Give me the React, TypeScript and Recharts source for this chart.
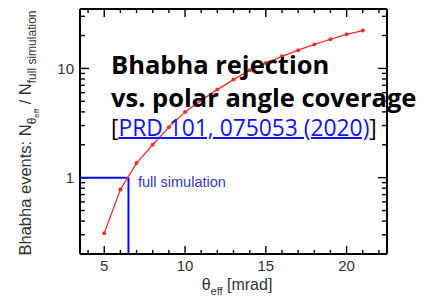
import { ComposedChart, Line, XAxis, YAxis, ReferenceLine } from "recharts";

// theta_eff [mrad] and N(theta_eff) / N(full simulation)
const angles = [5, 6, 7, 8, 9, 10, 11, 12, 13, 14, 15, 16, 17, 18, 19, 20, 21];
const ratios = [0.31, 0.78, 1.36, 2.0, 2.9, 4.0, 5.1, 6.4, 7.9, 9.6, 11.2, 12.9, 14.7, 16.6, 18.5, 20.5, 22.2];

const xMajor = [5, 10, 15, 20];
const xTicks = [4, 5, 6, 7, 8, 9, 10, 11, 12, 13, 14, 15, 16, 17, 18, 19, 20, 21, 22];
const yMajor = [1, 10];
const yTicks = [0.2, 0.3, 0.4, 0.5, 0.6, 0.7, 0.8, 0.9, 1, 2, 3, 4, 5, 6, 7, 8, 9, 10, 20, 30];

const fullSimAngle = 6.5;
const fullSimRatio = 1;

const xDomain = [3.5, 22.5];
const yDomain = [0.2, 35];

const data = angles.map((a, i) => ({ angle: a, ratio: ratios[i] }));

const W = 431;
const H = 298;
const axisFont = "'Liberation Sans', Arial, sans-serif";
const titleFont = "'Open Sans', 'Noto Sans', sans-serif";
const labelGray = "#333";
const simBlue = "#0b0bef";

const frameStyle = { stroke: "#000", strokeWidth: 2 };
const tickText = { fill: labelGray, fontSize: 15, fontFamily: axisFont };
const redDot = { r: 2, fill: "#e8302c", stroke: "none" };
const margin = { top: 9, right: 44, bottom: 0, left: 0 };

// short inward marks at both ends of a full-height / full-width segment
function tickPair(len: number) {
  return (p: any) => {
    const { x1, y1, x2, y2 } = p;
    const dx = Math.sign(x2 - x1);
    const dy = Math.sign(y2 - y1);
    return (
      <g stroke="#000" strokeWidth={1.4}>
        <line x1={x1} y1={y1} x2={x1 + dx * len} y2={y1 + dy * len} />
        <line x1={x2} y1={y2} x2={x2 - dx * len} y2={y2 - dy * len} />
      </g>
    );
  };
}
const xLong = tickPair(8);
const xShort = tickPair(4);
const yLong = tickPair(9);
const yShort = tickPair(5);

const xTickSegs = xTicks.map((v) => [
  { x: v, y: yDomain[0] },
  { x: v, y: yDomain[1] },
]);
const yTickSegs = yTicks.map((v) => [
  { x: xDomain[0], y: v },
  { x: xDomain[1], y: v },
]);
const cutH = [
  { x: xDomain[0], y: fullSimRatio },
  { x: fullSimAngle, y: fullSimRatio },
];
const cutV = [
  { x: fullSimAngle, y: fullSimRatio },
  { x: fullSimAngle, y: yDomain[0] },
];

const abs = (left: number, top: number, extra: any = {}) => ({
  position: "absolute" as const,
  left,
  top,
  whiteSpace: "nowrap" as const,
  ...extra,
});

export default function App() {
  return (
    <div style={{ position: "absolute", left: 0, top: 0, width: W, height: H, background: "#fff", overflow: "hidden" }}>
      <ComposedChart width={W} height={H} data={data} margin={margin}>
        <XAxis
          xAxisId="x"
          dataKey="angle"
          type="number"
          domain={xDomain}
          allowDataOverflow
          ticks={xMajor}
          height={44}
          tickLine={false}
          tickSize={0}
          tickMargin={6}
          axisLine={frameStyle}
          tick={tickText}
        />
        <YAxis
          yAxisId="y"
          dataKey="ratio"
          type="number"
          scale="log"
          domain={yDomain}
          allowDataOverflow
          ticks={yMajor}
          width={80}
          tickLine={false}
          tickSize={0}
          tickMargin={6}
          axisLine={frameStyle}
          tick={tickText}
        />

        {/* top and right frame */}
        <ReferenceLine xAxisId="x" yAxisId="y" x={xDomain[1]} stroke="#000" strokeWidth={2} ifOverflow="visible" />
        <ReferenceLine xAxisId="x" yAxisId="y" y={yDomain[1]} stroke="#000" strokeWidth={2} ifOverflow="visible" />

        {/* inward ticks on all four sides */}
        {xTickSegs.map((seg, i) => (
          <ReferenceLine
            key={`xt${i}`}
            xAxisId="x"
            yAxisId="y"
            segment={seg}
            ifOverflow="visible"
            shape={xMajor.includes(xTicks[i]) ? xLong : xShort}
          />
        ))}
        {yTickSegs.map((seg, i) => (
          <ReferenceLine
            key={`yt${i}`}
            xAxisId="x"
            yAxisId="y"
            segment={seg}
            ifOverflow="visible"
            shape={yMajor.includes(yTicks[i]) ? yLong : yShort}
          />
        ))}

        <ReferenceLine xAxisId="x" yAxisId="y" segment={cutH} stroke={simBlue} strokeWidth={2} ifOverflow="visible" />
        <ReferenceLine xAxisId="x" yAxisId="y" segment={cutV} stroke={simBlue} strokeWidth={2} ifOverflow="visible" />

        <Line
          xAxisId="x"
          yAxisId="y"
          dataKey="ratio"
          type="linear"
          stroke="#e8302c"
          strokeWidth={1.3}
          dot={redDot}
          isAnimationActive={false}
        />
      </ComposedChart>

      {/* axis titles and annotations */}
      <div
        style={abs(-104.7, 123, {
          width: 260,
          height: 20,
          lineHeight: "20px",
          textAlign: "center",
          transform: "rotate(-90deg)",
          fontFamily: axisFont,
          fontSize: 16.5,
          color: labelGray,
        })}
      >
        Bhabha events: N
        <span style={{ fontSize: 12, position: "relative", top: 5 }}>
          θ<span style={{ fontSize: 8, position: "relative", top: 3 }}>eff</span>
        </span>
        {" / N"}
        <span style={{ fontSize: 12, position: "relative", top: 5 }}>full simulation</span>
      </div>

      <div
        style={abs(137, 276.5, {
          width: 200,
          lineHeight: "16px",
          textAlign: "center",
          fontFamily: axisFont,
          fontSize: 16,
          color: labelGray,
        })}
      >
        θ<span style={{ fontSize: 11, position: "relative", top: 5 }}>eff</span> [mrad]
      </div>

      <div style={abs(138, 175.4, { lineHeight: "14.5px", fontFamily: axisFont, fontSize: 14.5, color: "#3434d2" })}>
        full simulation
      </div>

      <div style={abs(111, 52.4, { lineHeight: "25.5px", fontFamily: titleFont, fontSize: 25.5, fontWeight: 700, color: "#000" })}>
        Bhabha rejection
      </div>
      <div style={abs(111, 85.4, { lineHeight: "25.5px", fontFamily: titleFont, fontSize: 25.5, fontWeight: 700, color: "#000" })}>
        vs. polar angle coverage
      </div>
      <div style={abs(111, 116.8, { lineHeight: "22.8px", fontFamily: titleFont, fontSize: 22.8, color: "#000" })}>
        [
        <span style={{ color: "#1212f5", textDecoration: "underline", textDecorationThickness: 2 }}>
          PRD 101, 075053 (2020)
        </span>
        ]
      </div>
    </div>
  );
}
